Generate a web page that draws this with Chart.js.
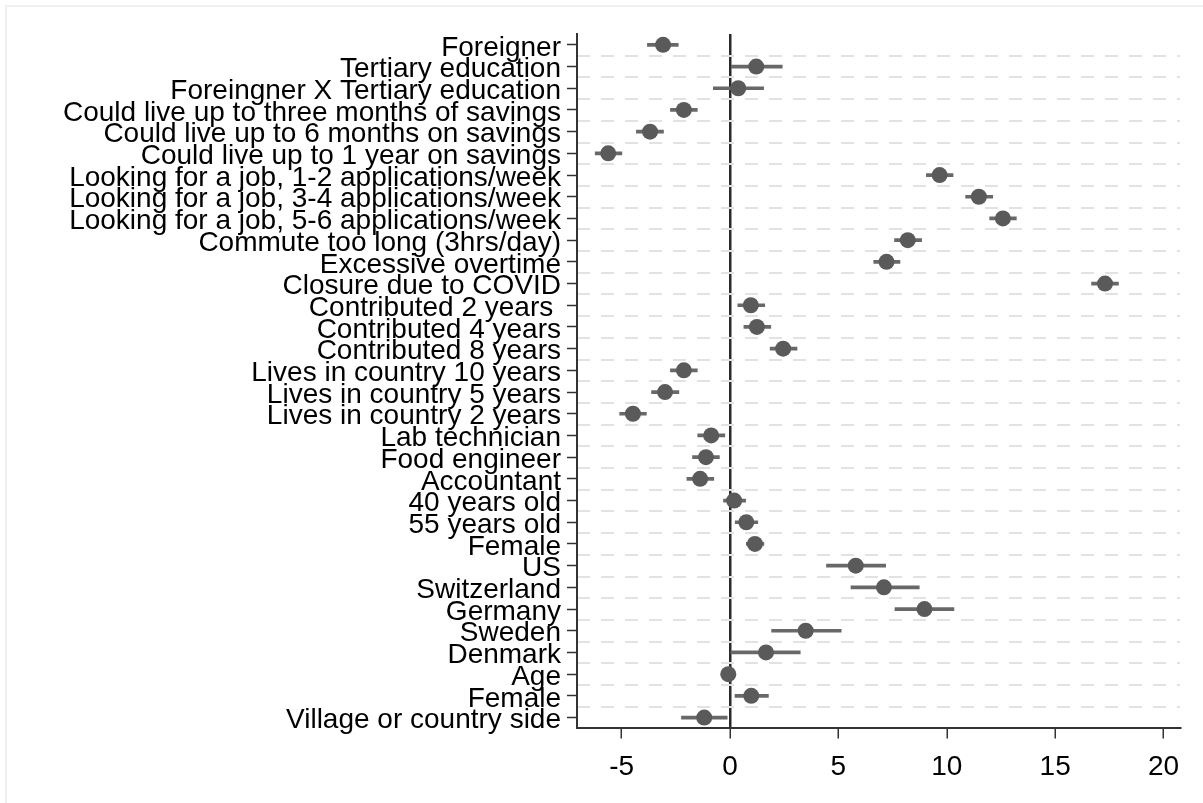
<!DOCTYPE html>
<html>
<head>
<meta charset="utf-8">
<script src="https://cdn.jsdelivr.net/npm/chart.js@4.4.1/dist/chart.umd.min.js"></script>
<style>
  body { margin: 0; background: #fff; }
  #frame { position: absolute; left: 5px; top: 5px; width: 1198px; height: 798px;
           border-left: 2px solid #f0f0f0; border-top: 2px solid #f0f0f0; }
  #wrap { position: absolute; left: 0; top: 0; width: 1203px; height: 803px; }
</style>
</head>
<body>
<div id="frame"></div>
<div id="wrap"><canvas id="coefChart"></canvas></div>
<script>
// coefficient labels, top to bottom
const labels = [
    'Foreigner',
    'Tertiary education',
    'Foreingner X Tertiary education',
    'Could live up to three months of savings',
    'Could live up to 6 months on savings',
    'Could live up to 1 year on savings',
    'Looking for a job, 1-2 applications/week',
    'Looking for a job, 3-4 applications/week',
    'Looking for a job, 5-6 applications/week',
    'Commute too long (3hrs/day)',
    'Excessive overtime',
    'Closure due to COVID',
    'Contributed 2 years ',
    'Contributed 4 years',
    'Contributed 8 years',
    'Lives in country 10 years',
    'Lives in country 5 years',
    'Lives in country 2 years',
    'Lab technician',
    'Food engineer',
    'Accountant',
    '40 years old',
    '55 years old',
    'Female',
    'US',
    'Switzerland',
    'Germany',
    'Sweden',
    'Denmark',
    'Age',
    'Female',
    'Village or country side'
];

const coef = [-3.09, 1.21, 0.38, -2.13, -3.69, -5.62, 9.67, 11.48, 12.59, 8.20, 7.22, 17.30,
    0.96, 1.24, 2.45, -2.13, -3.00, -4.48, -0.87, -1.11, -1.38, 0.19, 0.75, 1.15,
    5.80, 7.10, 8.97, 3.49, 1.66, -0.08, 0.98, -1.19];

const ciLow = [-3.81, 0.00, -0.77, -2.75, -4.32, -6.22, 9.06, 10.87, 11.98, 7.59, 6.63, 16.68,
    0.36, 0.64, 1.85, -2.75, -3.62, -5.09, -1.49, -1.73, -1.99, -0.30, 0.24, 0.75,
    4.45, 5.58, 7.61, 1.92, 0.04, -0.15, 0.23, -2.24];

const ciHigh = [-2.39, 2.41, 1.55, -1.51, -3.07, -4.99, 10.29, 12.12, 13.21, 8.84, 7.84, 17.92,
    1.60, 1.88, 3.09, -1.51, -2.36, -3.86, -0.24, -0.49, -0.75, 0.72, 1.28, 1.56,
    7.18, 8.73, 10.33, 5.13, 3.24, 0.00, 1.77, -0.13];

const xTicks = [-5, 0, 5, 10, 15, 20];

function createChart() {
    let ranges = [];
    for (let i in ciLow) {
        ranges.push([ciLow[i], ciHigh[i]]);
    }

    const font = { family: "'Liberation Sans', Arial, sans-serif", size: 28 };
    var parrentNode = document.getElementById('coefChart');

    new Chart(parrentNode, {
        type: 'bar',
        data: {
            labels: labels,
            datasets: [{
                label: 'CI',
                data: ranges,
                backgroundColor: '#686868',
                barThickness: 3,
                yAxisID: 'y',
                order: 2
            }, {
                type: 'line',
                label: 'Coefficient',
                data: coef,
                showLine: false,
                pointRadius: 8,
                pointBackgroundColor: '#5a5a5a',
                pointBorderWidth: 0,
                yAxisID: 'y',
                order: 1
            }]
        },
        options: {
            indexAxis: 'y',
            responsive: true,
            maintainAspectRatio: false,
            animation: false,
            layout: {
                padding: { top: 34, right: 23, bottom: 7, left: 0 }
            },
            scales: {
                x: {
                    type: 'linear',
                    min: -7.06,
                    max: 20.76,
                    afterBuildTicks: function (scale) {
                        scale.ticks = xTicks.map(v => ({ value: v }));
                    },
                    ticks: {
                        color: '#000',
                        font: font,
                        padding: 12,
                        maxRotation: 0
                    },
                    grid: {
                        color: ctx => (ctx.tick && ctx.tick.value === 0) ? '#2a2a2a' : 'rgba(0,0,0,0)',
                        lineWidth: 2.5,
                        tickColor: '#333333',
                        tickLength: 10,
                        tickWidth: 1.5
                    },
                    border: { color: '#333333', width: 2 }
                },
                y: {
                    type: 'category',
                    offset: true,
                    position: 'left',
                    afterFit: function (scale) { scale.width = 577; },
                    ticks: {
                        color: '#000',
                        font: font,
                        padding: 6,
                        labelOffset: 3,
                        autoSkip: false
                    },
                    grid: {
                        drawOnChartArea: false,
                        offset: false,
                        tickColor: '#333333',
                        tickLength: 10,
                        tickWidth: 1.5
                    },
                    border: { color: '#333333', width: 2 }
                },
                y2: {
                    type: 'category',
                    labels: labels,
                    offset: true,
                    position: 'right',
                    afterFit: function (scale) { scale.width = 0; },
                    ticks: { display: false },
                    grid: {
                        offset: true,
                        drawTicks: false,
                        color: ctx => (ctx.index === 0 || ctx.index === labels.length) ? 'rgba(0,0,0,0)' : '#e2e2e2',
                        lineWidth: 2
                    },
                    border: { display: false, dash: [13, 11] }
                }
            },
            plugins: {
                legend: { display: false },
                tooltip: { enabled: false }
            }
        }
    });
}

createChart();
</script>
</body>
</html>
